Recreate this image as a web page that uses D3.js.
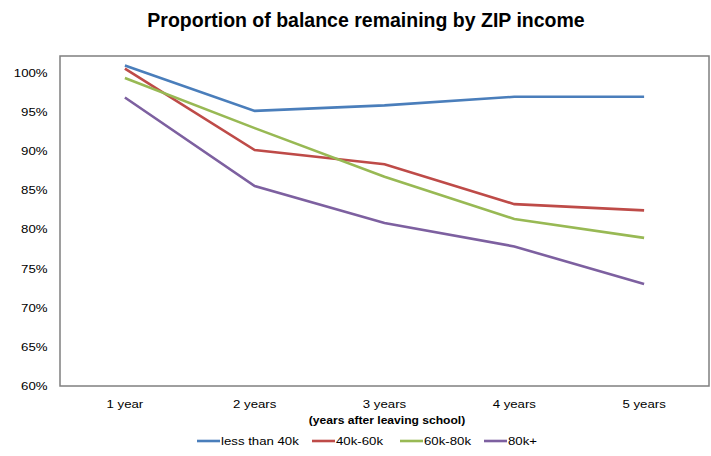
<!DOCTYPE html>
<html>
<head>
<meta charset="utf-8">
<script src="https://cdnjs.cloudflare.com/ajax/libs/d3/7.8.5/d3.min.js"></script>
<style>
  body { margin: 0; background: #fff; }
  text { font-family: "Liberation Sans", Arial, sans-serif; fill: #000; }
</style>
</head>
<body>
<svg width="711" height="456"></svg>
<script>
var years = ["1 year", "2 years", "3 years", "4 years", "5 years"];
var lessThan40k = [1.009, 0.951, 0.958, 0.969, 0.969];
var k40to60 = [1.005, 0.901, 0.883, 0.832, 0.824];
var k60to80 = [0.993, 0.929, 0.867, 0.813, 0.789];
var k80plus = [0.968, 0.855, 0.808, 0.778, 0.730];
var yTicks = [0.60, 0.65, 0.70, 0.75, 0.80, 0.85, 0.90, 0.95, 1.00];

var series = [
  { name: "less than 40k", values: lessThan40k, color: "#4A7EBB" },
  { name: "40k-60k", values: k40to60, color: "#BE4B48" },
  { name: "60k-80k", values: k60to80, color: "#98B954" },
  { name: "80k+", values: k80plus, color: "#7D60A0" }
];

var svg = d3.select("svg");
var plotLeft = 60, plotRight = 709, plotTop = 56, plotBottom = 386;
// the original's small labels are drawn a bit wide
var stretch = "scale(1.15,1)";

var x = d3.scaleBand().domain(years).range([plotLeft, plotRight]);
var y = d3.scaleLinear().domain([0.6, 1.021]).range([plotBottom, plotTop]);

svg.append("text")
    .attr("x", 366).attr("y", 27)
    .attr("text-anchor", "middle")
    .style("font-size", "19.5px").style("font-weight", "bold")
    .text("Proportion of balance remaining by ZIP income");

// y axis labels
svg.append("g")
    .attr("transform", "translate(" + (plotLeft - 9) + ",0)")
    .call(d3.axisLeft(y).tickValues(yTicks).tickSize(0).tickFormat(d3.format(".0%")))
    .call(function(g) { g.select(".domain").remove(); })
    .selectAll("text")
    .style("font-size", "11.5px")
    .attr("fill", "#000")
    .attr("transform", stretch);

// x axis labels
svg.append("g")
    .attr("transform", "translate(0," + (plotBottom + 11) + ")")
    .call(d3.axisBottom(x).tickSize(0))
    .call(function(g) { g.select(".domain").remove(); })
    .selectAll("text")
    .style("font-size", "11.5px")
    .attr("fill", "#000")
    .attr("transform", stretch);

svg.append("text")
    .attr("transform", "translate(387,424) scale(1.1,1)")
    .attr("text-anchor", "middle")
    .style("font-size", "11px").style("font-weight", "bold")
    .text("(years after leaving school)");

var line = d3.line()
    .x(function(d, i) { return x(years[i]) + x.bandwidth() / 2; })
    .y(function(d) { return y(d); });

svg.selectAll(".series")
    .data(series)
  .enter().append("path")
    .attr("class", "series")
    .attr("fill", "none")
    .attr("stroke", function(d) { return d.color; })
    .attr("stroke-width", 2.6)
    .attr("d", function(d) { return line(d.values); });

// plot frame
svg.append("rect")
    .attr("x", plotLeft).attr("y", plotTop)
    .attr("width", plotRight - plotLeft).attr("height", plotBottom - plotTop)
    .attr("fill", "none")
    .attr("stroke", "#7f7f7f")
    .attr("stroke-width", 1.5);

// legend
var legendX = [197, 312, 400, 484];
var legend = svg.selectAll(".legend")
    .data(series)
  .enter().append("g")
    .attr("class", "legend")
    .attr("transform", function(d, i) { return "translate(" + legendX[i] + ",445)"; });

legend.append("line")
    .attr("x1", 0).attr("x2", 23)
    .attr("y1", -4).attr("y2", -4)
    .attr("stroke", function(d) { return d.color; })
    .attr("stroke-width", 2.6);

legend.append("text")
    .attr("transform", "translate(24,0) " + stretch)
    .style("font-size", "11.5px")
    .text(function(d) { return d.name; });
</script>
</body>
</html>
